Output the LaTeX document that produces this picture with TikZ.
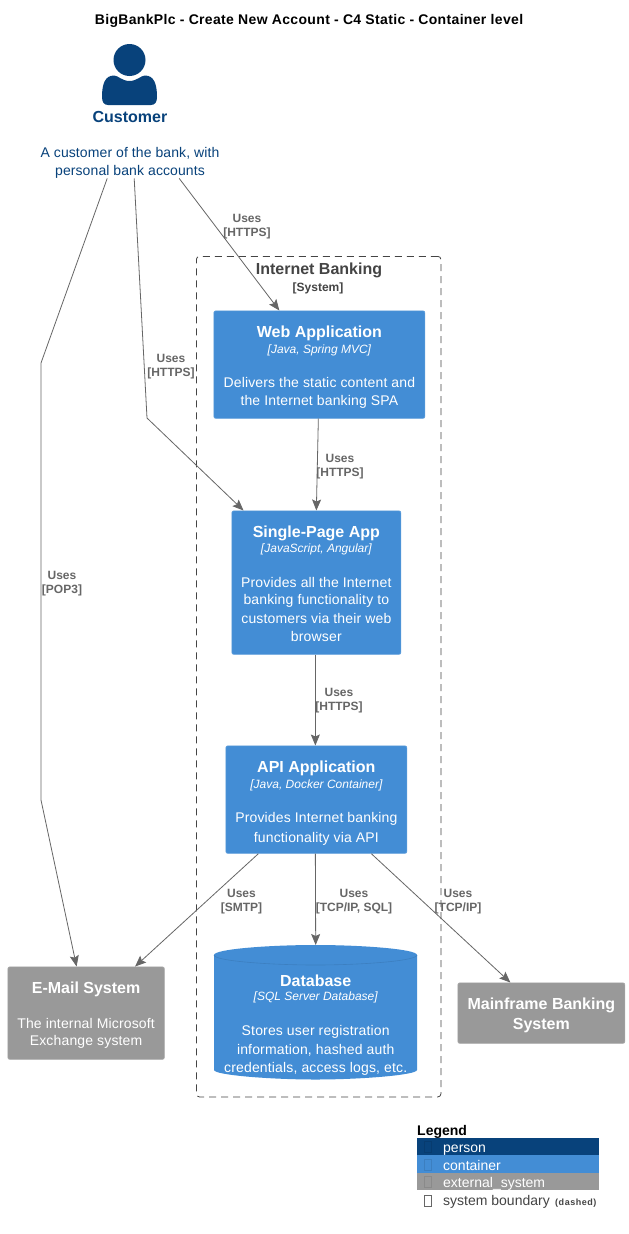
\documentclass[tikz,border=0pt]{standalone}
\usepackage{fontspec}
\setmainfont{Liberation Sans}
\newfontfamily\titlef[LetterSpace=2.4]{Liberation Sans}
\newfontfamily\descf[LetterSpace=1.1]{Liberation Sans}
\newfontfamily\custf[LetterSpace=0.7]{Liberation Sans}
\newfontfamily\smallf[LetterSpace=6]{Liberation Sans}
\usetikzlibrary{arrows.meta,calc}
\definecolor{personc}{HTML}{08427B}
\definecolor{contc}{HTML}{438DD5}
\definecolor{extc}{HTML}{999999}
\definecolor{linec}{HTML}{666666}
\definecolor{boundc}{HTML}{444444}
\definecolor{dbline}{HTML}{3C7FC0}
\newcommand{\fs}[1]{\fontsize{#1}{#1}\selectfont}
\newcommand{\dsc}{\descf\fs{14}}
\newcommand{\nl}{\\[5.2pt]\dsc}
\newcommand{\boxtext}[4]{\rule{0pt}{#1pt}\fs{16}\bfseries #2\\[2.4pt]\fs{12}\itshape [#3]\\[21pt]\dsc #4}
\tikzset{
 x=1pt,y=-1pt,
 cbox/.style={rectangle,rounded corners=2pt,fill=#1,draw=#1!85!white,line width=0.7pt,text=white,align=center,inner sep=0pt,anchor=north west},
 rel/.style={draw=linec,line width=0.8pt,-{Stealth[length=11pt,width=9pt,inset=2pt,fill=linec]}},
 rellabel/.style={font=\fs{12}\bfseries,text=linec,align=center,inner sep=0pt},
 legtext/.style={font=\fs{14},text=white,anchor=base west,inner sep=0pt},
 legrow/.style={rectangle,fill=#1,minimum width=182pt,minimum height=17.5pt,inner sep=0pt,anchor=north west},
 legicon/.style={rectangle,draw=#1,line width=0.7pt,minimum width=7.5pt,minimum height=11pt,inner sep=0pt},
}
\begin{document}
\begin{tikzpicture}
\useasboundingbox (0,0) rectangle (629,1234);
\fill[white] (0,0) rectangle (629,1234);
\node[font=\titlef\fs{14}\bfseries,inner sep=0pt] (title) at (309,21) {BigBankPlc - Create New Account - C4 Static - Container level};
% boundary
\node[rectangle,draw=boundc,line width=0.8pt,dash pattern=on 7pt off 5pt,rounded corners=3pt,minimum width=244.5pt,minimum height=840.5pt,inner sep=0pt,anchor=north west] (bound) at (196,256) {};
\node[font=\fs{16}\bfseries,text=boundc,inner sep=0pt] (boundt) at (319,270.5) {Internet Banking};
\node[font=\fs{12}\bfseries,text=boundc,inner sep=0pt] (bounds) at (318,288) {[System]};
% customer
\fill[personc] (129.5,60) circle (16);
\fill[personc] (102,97) .. controls (102,84) and (105,75.5) .. (114,75.5) .. controls (118,75.5) and (122,81) .. (129.5,81) .. controls (137,81) and (141,75.5) .. (145,75.5) .. controls (154,75.5) and (157,84) .. (157,97) .. controls (157,102) and (155,105) .. (151,105) -- (108,105) .. controls (104,105) and (102,102) .. (102,97) -- cycle;
\node[rectangle,minimum width=200pt,minimum height=70pt,inner sep=0pt,anchor=north west] (cust) at (30,108) {};
\node[font=\fs{16}\bfseries,text=personc,inner sep=0pt] (custn) at (130,117) {Customer};
\node[font=\custf\fs{14},text=personc,align=center,inner sep=0pt] (custd) at (130,163) {A customer of the bank, with\\[4pt]personal bank accounts};
% containers
\node[cbox=contc,minimum width=211pt,minimum height=107.5pt] (web) at (213.5,310.5) {\boxtext{16.8}{Web Application}{Java, Spring MVC}{Delivers the static content and\nl the Internet banking SPA}};
\node[cbox=contc,minimum width=169pt,minimum height=143.5pt] (spa) at (231.5,510.5) {\boxtext{13.5}{Single-Page App}{JavaScript, Angular}{Provides all the Internet\nl banking functionality to\nl customers via their web\nl browser}};
\node[cbox=contc,minimum width=181pt,minimum height=107.5pt] (api) at (225.5,745.5) {\boxtext{18.8}{API Application}{Java, Docker Container}{Provides Internet banking\nl functionality via API}};
% database
\fill[contc] (214,955) .. controls (214,949) and (270,945) .. (315.5,945) .. controls (361,945) and (417,949) .. (417,955) -- (417,1070) .. controls (417,1075) and (361,1079.5) .. (315.5,1079.5) .. controls (270,1079.5) and (214,1075) .. (214,1070) -- cycle;
\draw[dbline,line width=0.6pt] (214,955) .. controls (214,961) and (270,965) .. (315.5,965) .. controls (361,965) and (417,961) .. (417,955);
\node[rectangle,minimum width=203pt,minimum height=134.5pt,text=white,align=center,inner sep=0pt,anchor=north west] (db) at (214,945) {\rule{0pt}{24.6pt}\\\boxtext{1}{Database}{SQL Server Database}{Stores user registration\nl information, hashed auth\nl credentials, access logs, etc.}};
% external
\node[cbox=extc,minimum width=156.5pt,minimum height=92.5pt] (mail) at (7.5,966.5) {\rule{0pt}{15.9pt}\fs{16}\bfseries E-Mail System\\[21pt]\dsc The internal Microsoft\nl Exchange system};
\node[cbox=extc,minimum width=167pt,minimum height=60.5pt] (main) at (457.5,982.5) {\rule{0pt}{15.6pt}\fs{16}\bfseries Mainframe Banking\\[4pt]\fs{16}\bfseries System};
% relations
\draw[rel] ([xshift=49pt]cust.south) -- ([xshift=-40pt]web.north);
\draw[rel] ([xshift=4pt]cust.south) -- (147,418) -- ([xshift=12pt]spa.north west);
\draw[rel] ([xshift=-23pt]cust.south) -- (41,363) -- (41,800) -- ([xshift=-9.5pt]mail.north);
\draw[rel] ([xshift=-1pt]web.south) -- (spa.north);
\draw[rel] ([xshift=-1pt]spa.south) -- ([xshift=-1pt]api.north);
\draw[rel] ([xshift=-58pt]api.south) -- ([xshift=49pt]mail.north);
\draw[rel] ([xshift=-1pt]api.south) -- (db.north);
\draw[rel] ([xshift=55pt]api.south) -- ([xshift=-31pt]main.north);
% relation labels
\node[rellabel] (l1) at (247,226.5) {Uses\\[2pt][HTTPS]};
\node[rellabel] (l2) at (171,366.5) {Uses\\[2pt][HTTPS]};
\node[rellabel] (l3) at (340,466.5) {Uses\\[2pt][HTTPS]};
\node[rellabel] (l4) at (339,701) {Uses\\[2pt][HTTPS]};
\node[rellabel] (l5) at (62,583.5) {Uses\\[2pt][POP3]};
\node[rellabel] (l6) at (241.5,901.5) {Uses\\[2pt][SMTP]};
\node[rellabel] (l7) at (354,901.5) {Uses\\[2pt][TCP/IP, SQL]};
\node[rellabel] (l8) at (458,901.5) {Uses\\[2pt][TCP/IP]};
% legend
\node[font=\fs{14}\bfseries,anchor=base west,inner sep=0pt] (legt) at (417,1135) {Legend};
\node[legrow=personc] (r1) at (417,1137.7) {};
\node[legrow=contc] (r2) at (417,1155.2) {};
\node[legrow=extc] (r3) at (417,1172.7) {};
\node[legicon=personc!90!black] (i1) at (428,1147) {};
\node[legicon=contc!90!black] (i2) at (428,1164.5) {};
\node[legicon=extc!90!black] (i3) at (428,1182) {};
\node[legicon=linec] (i4) at (428,1200.5) {};
\node[legtext] (t1) at (443,1152) {person};
\node[legtext] (t2) at (443,1170) {container};
\node[legtext] (t3) at (443,1187) {external\_system};
\node[legtext,text=boundc] (t4) at (443,1205) {system boundary};
\node[font=\smallf\fs{9}\bfseries,text=boundc,anchor=base west,inner sep=0pt] (t5) at (555,1205) {(dashed)};
\end{tikzpicture}
\end{document}
